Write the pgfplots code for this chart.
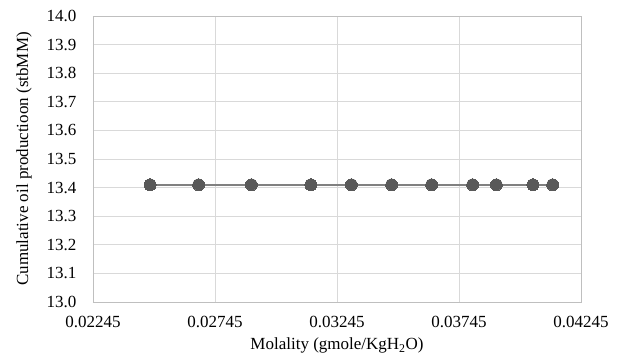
\documentclass[border=0pt]{standalone}
\usepackage{pgfplots}
\pgfplotsset{compat=1.18}
\usepackage{fontspec}
\setmainfont{Liberation Serif}
\definecolor{gridc}{HTML}{D9D9D9}
\definecolor{framec}{HTML}{BFBFBF}
\definecolor{markc}{HTML}{595959}
\definecolor{linec}{HTML}{808080}
\begin{document}
\begin{tikzpicture}[x=1pt,y=1pt]
\begin{axis}[name=ax,
  scale only axis, width=488pt, height=286pt,
  xmin=0.02245, xmax=0.04245, ymin=13, ymax=14,
  xtick={0.02245,0.02745,0.03245,0.03745,0.04245},
  xticklabels={0.02245,0.02745,0.03245,0.03745,0.04245},
  ytick={13,13.1,...,14.01},
  yticklabel style={/pgf/number format/fixed,/pgf/number format/fixed zerofill,/pgf/number format/precision=1},
  /pgf/number format/assume math mode=true,
  scaled x ticks=false,
  major tick length=0pt,
  grid=major,
  grid style={gridc, line width=0.9pt},
  axis line style={framec, line width=0.9pt},
  tick label style={font=\fontsize{17}{20}\selectfont, text=black},
  label style={font=\fontsize{17}{20}\selectfont},
  xticklabel style={yshift=-11pt},
  yticklabel style={xshift=-13pt},
  xlabel={Molality (gmole/KgH\textsubscript{2}O)},
  ylabel={Cumulative oil productioon (stbMM)},
  xlabel style={yshift=-3pt},
  ylabel style={yshift=8pt},
]
\addplot[linec, line width=1.6pt, mark=*, mark size=6pt,
  mark options={fill=markc, draw=markc, line width=0pt}] coordinates {
(0.02479,13.41) (0.02678,13.41) (0.02894,13.41) (0.03138,13.41)
(0.03304,13.41) (0.03469,13.41) (0.03633,13.41) (0.03801,13.41)
(0.03898,13.41) (0.04048,13.41) (0.04129,13.41)
};
\end{axis}
\path (ax.south west) ++(-93pt,-53pt) coordinate (bl);
\path (ax.north east) ++(46pt,16pt) coordinate (tr);
\useasboundingbox (bl) rectangle (tr);
\end{tikzpicture}
\end{document}
